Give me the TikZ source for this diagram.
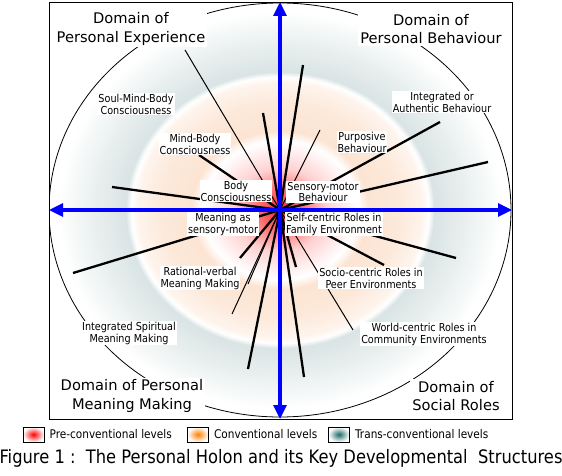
\documentclass[tikz,border=0pt]{standalone}
\usepackage{fontspec}
\setmainfont{DejaVu Sans}[FakeStretch=0.88]
\newfontfamily\widefont{DejaVu Sans}
\usetikzlibrary{positioning, arrows.meta}

\definecolor{axisblue}{RGB}{0,0,255}
\definecolor{corered}{RGB}{238,45,45}
\definecolor{peach}{RGB}{252,228,210}
\definecolor{transgrey}{RGB}{218,228,228}
\definecolor{tealdark}{RGB}{30,105,105}

% rings of the holon, 25bp = outer ellipse
\pgfdeclareradialshading{holon}{\pgfpoint{0bp}{0bp}}{%
    color(0bp)=(corered);
    color(2.5bp)=(red!55);
    color(5bp)=(red!18);
    color(7.6bp)=(red!4);
    color(8.4bp)=(white);
    color(9.6bp)=(peach);
    color(13bp)=(peach!80);
    color(15.4bp)=(peach!40);
    color(16.1bp)=(white);
    color(16.7bp)=(transgrey);
    color(20bp)=(transgrey!60);
    color(24bp)=(white);
    color(50bp)=(white)}

\begin{document}
\begin{tikzpicture}[x=1bp, y=-1bp,
    % Styles
    lbl/.style={
        fill=white,
        inner sep=1bp,
        align=center,
        font=\fontsize{11}{12}\selectfont
    },
    domainbox/.style={
        fill=white,
        inner sep=2bp,
        align=center,
        font=\widefont\fontsize{14.7}{18.5}\selectfont
    },
    spoke/.style={
        line width=2.3pt,
        black
    },
    thinspoke/.style={
        line width=1pt,
        black
    },
    axisline/.style={
        line width=3.2pt,
        axisblue,
        {Triangle[length=14bp, width=13bp]}-{Triangle[length=14bp, width=13bp]}
    },
    swatch/.style={
        draw=black,
        line width=0.8pt,
        minimum width=21bp,
        minimum height=15bp,
        inner sep=0pt
    },
    legendtext/.style={
        inner sep=1bp,
        font=\fontsize{12}{14}\selectfont
    },
    captiontext/.style={
        inner sep=0pt,
        font=\fontsize{18.6}{20}\selectfont
    }
]

\fill[white] (0,0) rectangle (562,476);
\useasboundingbox (0,0) rectangle (562,476);

% === Rings and outer boundary ===
\coordinate (centre) at (280,210);
\begin{scope}
    \clip (49,2) rectangle (512,419);
    \shade[shading=holon] (centre) ellipse [x radius=231, y radius=207];
    \draw[line width=0.8pt] (centre) ellipse [x radius=231, y radius=207];
\end{scope}

% === Spokes ===
\coordinate (ul1) at (185,50);
\coordinate (ul2) at (263,113);
\coordinate (ul3) at (199,155);
\coordinate (ul4) at (112,187);
\coordinate (ur1) at (303,65);
\coordinate (ur2) at (320,130);
\coordinate (ur3) at (440,122);
\coordinate (ur4) at (488,162);
\coordinate (ll1) at (73,273);
\coordinate (ll2) at (240,258);
\coordinate (ll3) at (248,284);
\coordinate (ll4) at (232,314);
\coordinate (ll5) at (248,369);
\coordinate (lr1) at (456,258);
\coordinate (lr2) at (384,265);
\coordinate (lr3) at (353,330);
\coordinate (lr4) at (296,267);
\coordinate (lr5) at (304,377);

\foreach \s in {ul2,ul3,ul4,ur1,ur3,ur4,ll1,ll2,ll5,lr1,lr2,lr4,lr5}
    \draw[spoke] (centre) -- (\s);
\foreach \s in {ul1,ur2,ll3,ll4,lr3}
    \draw[thinspoke] (centre) -- (\s);

% === Level labels ===
\node[lbl] (soulMB) at (136,104) {Soul-Mind-Body\\Consciousness};
\node[lbl] (mindB) at (195,144) {Mind-Body\\Consciousness};
\node[lbl] (bodyC) at (236,191) {Body\\Consciousness};
\node[lbl] (integB) at (442,102) {Integrated or\\Authentic Behaviour};
\node[lbl] (purpB) at (362,142) {Purposive\\Behaviour};
\node[lbl] (sensB) at (323,192) {Sensory-motor\\Behaviour};
\node[lbl] (meanSM) at (223,224) {Meaning as\\sensory-motor};
\node[lbl] (ratV) at (200,278) {Rational-verbal\\Meaning Making};
\node[lbl] (spirit) at (129,333) {Integrated Spiritual\\Meaning Making};
\node[lbl] (selfR) at (334,224) {Self-centric Roles in\\Family Environment};
\node[lbl] (socioR) at (371,278) {Socio-centric Roles in\\Peer Environments};
\node[lbl] (worldR) at (424,334) {World-centric Roles in\\Community Environments};

% === Domains ===
\node[domainbox] (domExp) at (131,29) {Domain of\\Personal Experience};
\node[domainbox] (domBeh) at (431,29) {Domain of\\Personal Behaviour};
\node[domainbox] (domMean) at (132,396) {Domain of Personal\\Meaning Making};
\node[domainbox] (domSoc) at (456,396) {Domain of\\Social Roles};

% === Axes ===
\coordinate (top) at (280,2);
\coordinate (bottom) at (280,419);
\coordinate (left) at (49,210);
\coordinate (right) at (512,210);
\draw[axisline] (top) -- (bottom);
\draw[axisline] (left) -- (right);

\draw[line width=0.9pt] (49,2) rectangle (512,419);

% === Legend ===
\node[swatch, inner color=red, outer color=white] (preSw) at (33.5,434.5) {};
\node[legendtext, anchor=west, right=4bp of preSw] (preTxt) {Pre-conventional levels};
\node[swatch, inner color=orange, outer color=white] (convSw) at (198,434.5) {};
\node[legendtext, anchor=west, right=4bp of convSw] (convTxt) {Conventional levels};
\node[swatch, inner color=tealdark, outer color=white] (transSw) at (339,434.5) {};
\node[legendtext, anchor=west, right=4bp of transSw] (transTxt) {Trans-conventional levels};

\node[captiontext, anchor=base] (fig) at (281,463)
    {Figure 1 :\ \ The Personal Holon and its Key Developmental\ \ Structures};

\end{tikzpicture}
\end{document}
